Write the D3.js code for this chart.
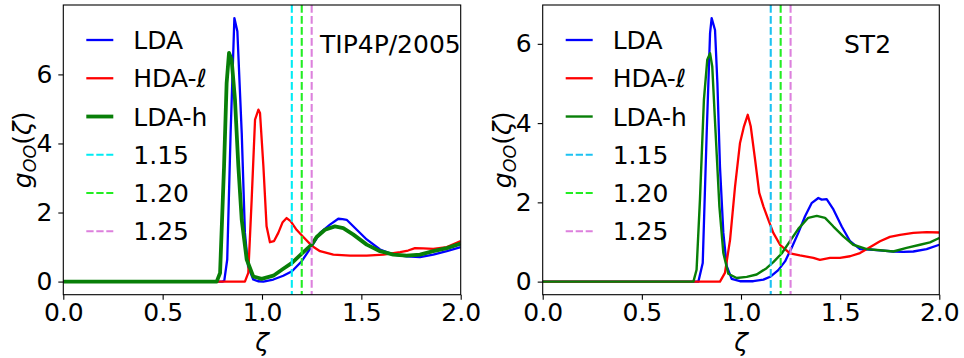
<!DOCTYPE html>
<html>
<head>
<meta charset="utf-8">
<script src="https://cdn.jsdelivr.net/npm/d3@7"></script>
<style>
  html, body { margin: 0; padding: 0; background: #fff; }
  svg text { font-family: "DejaVu Sans", sans-serif; fill: #000; }
</style>
</head>
<body>
<svg id="chart" width="964" height="358"></svg>
<script>
// Oxygen-oxygen pair distribution g_OO(ζ) for three amorphous ices, two water models.
// Each series is a list of [ζ, g] samples.

// ---- TIP4P/2005 ----
const tipLDA = [
  [0, 0], [0.80, 0], [0.81, 0.02], [0.825, 0.64], [0.842, 4.3], [0.861, 7.63], [0.876, 7.25],
  [0.898, 4.3], [0.914, 1.41], [0.93, 0.44], [0.956, 0.06], [0.98, 0.01], [1.007, 0.0],
  [1.057, 0.06], [1.107, 0.17], [1.151, 0.30], [1.20, 0.59], [1.25, 1.02], [1.292, 1.41],
  [1.342, 1.65], [1.384, 1.82], [1.405, 1.81], [1.426, 1.79], [1.477, 1.50], [1.527, 1.22],
  [1.594, 0.93], [1.661, 0.78], [1.728, 0.73], [1.795, 0.71], [1.862, 0.78], [1.93, 0.88],
  [2.0, 1.0]
];
const tipHDA = [
  [0, 0], [0.914, 0], [0.931, 0.25], [0.948, 2.37], [0.965, 4.69], [0.982, 4.98], [0.99, 4.88],
  [1.007, 3.34], [1.023, 1.6], [1.04, 1.14], [1.06, 1.17], [1.082, 1.41], [1.104, 1.72],
  [1.124, 1.84], [1.144, 1.75], [1.174, 1.5], [1.208, 1.29], [1.25, 1.04], [1.292, 0.88],
  [1.359, 0.78], [1.443, 0.75], [1.527, 0.75], [1.611, 0.78], [1.695, 0.85], [1.735, 0.9],
  [1.77, 0.97], [1.812, 0.96], [1.862, 0.95], [1.93, 1.0], [2.0, 1.17]
];
const tipLDAh = [
  [0, 0], [0.772, 0], [0.789, 0.25], [0.809, 3.34], [0.822, 5.75], [0.834, 6.62], [0.847, 6.43],
  [0.864, 5.27], [0.881, 3.34], [0.898, 1.79], [0.923, 0.64], [0.956, 0.15], [0.998, 0.08],
  [1.057, 0.17], [1.107, 0.37], [1.151, 0.54], [1.20, 0.81], [1.25, 1.07], [1.275, 1.29],
  [1.317, 1.50], [1.367, 1.60], [1.409, 1.55], [1.46, 1.36], [1.527, 1.07], [1.594, 0.88],
  [1.661, 0.78], [1.728, 0.75], [1.795, 0.78], [1.862, 0.88], [1.93, 0.97], [2.0, 1.1]
];

// ---- ST2 ----
const st2LDA = [
  [0, 0], [0.785, 0], [0.807, 0.47], [0.827, 3.75], [0.844, 6.27], [0.852, 6.65], [0.869, 6.35],
  [0.881, 5.0], [0.894, 2.9], [0.911, 1.23], [0.928, 0.39], [0.953, 0.07], [0.995, 0.01],
  [1.062, 0.01], [1.113, 0.05], [1.15, 0.13], [1.188, 0.29], [1.222, 0.51], [1.255, 0.85],
  [1.289, 1.23], [1.323, 1.65], [1.356, 1.98], [1.39, 2.11], [1.407, 2.07], [1.432, 2.08],
  [1.466, 1.82], [1.508, 1.39], [1.55, 1.02], [1.6, 0.82], [1.65, 0.81], [1.701, 0.79],
  [1.768, 0.76], [1.818, 0.75], [1.869, 0.76], [1.936, 0.82], [2.0, 0.93]
];
const st2HDA = [
  [0, 0], [0.894, 0], [0.919, 0.22], [0.945, 1.06], [0.97, 2.4], [0.995, 3.5], [1.015, 3.92],
  [1.034, 4.21], [1.049, 3.92], [1.071, 3.08], [1.092, 2.24], [1.113, 1.9], [1.138, 1.56],
  [1.163, 1.23], [1.197, 0.93], [1.247, 0.71], [1.297, 0.66], [1.365, 0.6], [1.398, 0.55],
  [1.449, 0.6], [1.499, 0.6], [1.55, 0.64], [1.6, 0.72], [1.65, 0.87], [1.701, 1.02],
  [1.751, 1.13], [1.802, 1.18], [1.869, 1.23], [1.936, 1.25], [2.0, 1.24]
];
const st2LDAh = [
  [0, 0], [0.76, 0], [0.776, 0.3], [0.793, 2.07], [0.813, 4.59], [0.83, 5.6], [0.844, 5.76],
  [0.855, 5.43], [0.872, 3.75], [0.891, 1.9], [0.911, 0.72], [0.936, 0.2], [0.978, 0.09],
  [1.029, 0.12], [1.079, 0.18], [1.129, 0.34], [1.163, 0.49], [1.205, 0.71], [1.247, 1.02],
  [1.289, 1.33], [1.339, 1.61], [1.382, 1.66], [1.424, 1.61], [1.466, 1.39], [1.516, 1.14],
  [1.566, 0.93], [1.634, 0.82], [1.701, 0.79], [1.768, 0.76], [1.835, 0.85], [1.903, 0.93],
  [1.953, 0.99], [2.0, 1.1]
];

const cutoffs = [1.15, 1.20, 1.25];
const cutoffLabels = ["1.15", "1.20", "1.25"];
const seriesLabels = ["LDA", "HDA-\u2113", "LDA-h"];
const xTicks = [0.0, 0.5, 1.0, 1.5, 2.0];
const yTicks = [0, 2, 4, 6];
const xDomain = [0, 2];
const modelNames = ["TIP4P/2005", "ST2"];

const panels = [
  {
    name: modelNames[0], series: [tipLDA, tipHDA, tipLDAh], yDomain: [-0.38, 8.01],
    left: 63.3, right: 460.7, greenWidth: 3.8,
    cutColors: ["#00ecf4", "#22ee22", "#dd80dd"], nameX: 320, yLabelX: 31
  },
  {
    name: modelNames[1], series: [st2LDA, st2HDA, st2LDAh], yDomain: [-0.33, 6.98],
    left: 542.7, right: 939.3, greenWidth: 2.4,
    cutColors: ["#1cc2f2", "#22ee22", "#dd80dd"], nameX: 844, yLabelX: 511
  }
];
const lineColors = ["#0000ff", "#ff0000", "#087f08"];
const plotTop = 5, plotBottom = 294.7;
const fontSize = 25;

const svg = d3.select("#chart");

panels.forEach((p, pi) => {
  const x = d3.scaleLinear().domain(xDomain).range([p.left, p.right]);
  const y = d3.scaleLinear().domain(p.yDomain).range([plotBottom, plotTop]);
  const g = svg.append("g");

  const clipId = "clip" + pi;
  svg.append("defs").append("clipPath").attr("id", clipId)
    .append("rect").attr("x", p.left).attr("y", plotTop)
    .attr("width", p.right - p.left).attr("height", plotBottom - plotTop);

  const plot = g.append("g").attr("clip-path", `url(#${clipId})`);
  const line = d3.line().x(d => x(d[0])).y(d => y(d[1]));

  // curves: LDA, HDA-l, LDA-h
  p.series.forEach((s, i) => {
    plot.append("path").datum(s)
      .attr("d", line)
      .attr("fill", "none")
      .attr("stroke", lineColors[i])
      .attr("stroke-width", i === 2 ? p.greenWidth : 2.3)
      .attr("stroke-linejoin", "round");
  });

  // vertical cutoff markers
  cutoffs.forEach((c, i) => {
    plot.append("line")
      .attr("x1", x(c)).attr("x2", x(c))
      .attr("y1", plotTop).attr("y2", plotBottom)
      .attr("stroke", p.cutColors[i])
      .attr("stroke-width", 2.1)
      .attr("stroke-dasharray", "7.7,3.3");
  });

  // axes
  const xAxis = d3.axisBottom(x).tickValues(xTicks).tickFormat(d3.format(".1f"))
    .tickSize(5).tickPadding(4);
  const yAxis = d3.axisLeft(y).tickValues(yTicks).tickFormat(d3.format("d"))
    .tickSize(5).tickPadding(6);

  const gx = g.append("g").attr("transform", `translate(0,${plotBottom})`).call(xAxis);
  const gy = g.append("g").attr("transform", `translate(${p.left},0)`).call(yAxis);
  [gx, gy].forEach(ax => {
    ax.select(".domain").remove();
    ax.selectAll(".tick line").attr("stroke", "#000").attr("stroke-width", 1.1);
    ax.selectAll(".tick text").attr("font-size", fontSize).attr("fill", "#000")
      .attr("font-family", "DejaVu Sans, sans-serif");
  });
  gx.selectAll(".tick text").attr("dy", "0.7em");

  // frame
  g.append("rect")
    .attr("x", p.left).attr("y", plotTop)
    .attr("width", p.right - p.left).attr("height", plotBottom - plotTop)
    .attr("fill", "none").attr("stroke", "#000").attr("stroke-width", 1.1);

  // axis labels
  g.append("text")
    .attr("x", (p.left + p.right) / 2).attr("y", 351)
    .attr("text-anchor", "middle")
    .attr("font-size", fontSize)
    .attr("font-style", "italic")
    .text("\u03b6");

  const yl = g.append("text")
    .attr("transform", `translate(${p.yLabelX},${(plotTop + plotBottom) / 2}) rotate(-90)`)
    .attr("text-anchor", "middle")
    .attr("font-size", fontSize);
  yl.append("tspan").attr("font-style", "italic").text("g");
  yl.append("tspan").attr("font-style", "italic").attr("font-size", fontSize * 0.7)
    .attr("dy", 5).text("OO");
  yl.append("tspan").attr("dy", -5).text("(");
  yl.append("tspan").attr("font-style", "italic").text("\u03b6");
  yl.append("tspan").text(")");

  // model name
  g.append("text")
    .attr("x", p.nameX).attr("y", 53)
    .attr("font-size", fontSize)
    .text(p.name);

  // legend
  const legX0 = p.left + 23, legX1 = p.left + 50, legText = p.left + 70;
  const rowY = d3.range(6).map(i => 40 + i * 38.26);
  seriesLabels.forEach((lab, i) => {
    g.append("line")
      .attr("x1", legX0).attr("x2", legX1)
      .attr("y1", rowY[i]).attr("y2", rowY[i])
      .attr("stroke", lineColors[i])
      .attr("stroke-width", i === 2 ? p.greenWidth : 2.3);
    g.append("text").attr("x", legText).attr("y", rowY[i] + 9)
      .attr("font-size", fontSize).text(lab);
  });
  cutoffLabels.forEach((lab, i) => {
    const yy = rowY[i + 3];
    g.append("line")
      .attr("x1", legX0).attr("x2", legX1)
      .attr("y1", yy).attr("y2", yy)
      .attr("stroke", p.cutColors[i])
      .attr("stroke-width", 2.1)
      .attr("stroke-dasharray", "7.3,2.7");
    g.append("text").attr("x", legText).attr("y", yy + 9)
      .attr("font-size", fontSize).text(lab);
  });
});
</script>
</body>
</html>
